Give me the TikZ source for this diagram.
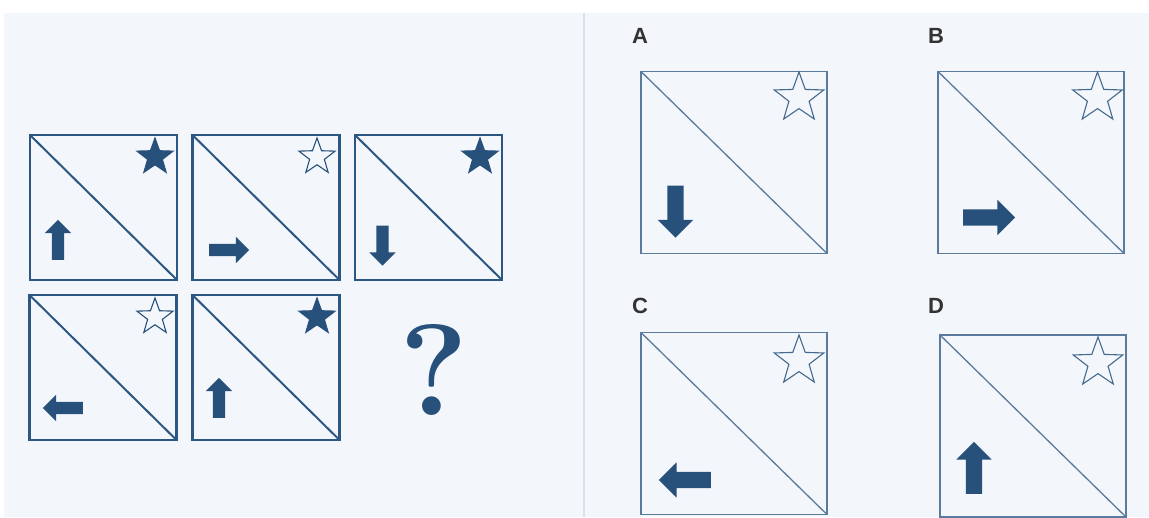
\documentclass[tikz,border=0pt]{standalone}
\usepackage{fontspec}
\newfontfamily\labelfont{Liberation Sans}
\usetikzlibrary{shapes.geometric,shapes.arrows}
\definecolor{panel}{HTML}{F3F6FB}
\definecolor{navy}{HTML}{27517B}
\definecolor{frameq}{HTML}{2C5783}
\definecolor{framea}{HTML}{5A7B9B}
\definecolor{rulegray}{HTML}{DDE2E8}
\definecolor{letter}{HTML}{333333}
\begin{document}
\begin{tikzpicture}[x=1pt, y=-1pt, line join=miter,
	qbox/.style={draw=frameq, line width=2.6pt, minimum width=147pt, minimum height=145pt, inner sep=0pt, outer sep=0pt},
	abox/.style={draw=framea, line width=1.6pt, minimum width=186pt, minimum height=182pt, inner sep=0pt, outer sep=0pt},
	qdiag/.style={draw=frameq, line width=2pt},
	adiag/.style={draw=framea, line width=1.3pt},
	qstar/.style={star, star points=5, star point ratio=2.45, minimum size=38pt, inner sep=0pt, draw=navy, line width=1.1pt},
	astar/.style={qstar, minimum size=52pt, line width=1.1pt, draw=framea!60!navy},
	solidstar/.style={fill=navy},
	qarrow/.style={single arrow, fill=navy, minimum height=40pt, inner sep=6pt, single arrow head extend=7pt, single arrow tip angle=90, outer sep=0pt},
	aarrow/.style={qarrow, minimum height=52pt, inner sep=8pt, single arrow head extend=9.5pt},
	tag/.style={font=\labelfont\bfseries\fontsize{22}{22}\selectfont, text=letter, inner sep=0pt}]
	\fill[white] (0,0) rectangle (1149,518);
	\useasboundingbox (0,0) rectangle (1149,518);
	\fill[panel] (4,13) rectangle (1149,517);
	\draw[rulegray, line width=2pt] (583.5,13) -- (583.5,517);
	% question grid
	\node[qbox] (p1) at (103.5,207.5) {};
	\node[qbox] (p2) at (266,207.5) {};
	\node[qbox] (p3) at (428.5,207.5) {};
	\node[qbox] (p4) at (103,367.5) {};
	\node[qbox] (p5) at (266,367.5) {};
	\foreach \p in {p1,p2,p3,p4,p5}
		\draw[qdiag] (\p.north west) -- (\p.south east);
	\node[qstar, solidstar] (s1) at (155,157) {};
	\node[qstar] (s2) at (317,157) {};
	\node[qstar, solidstar] (s3) at (480,157) {};
	\node[qstar] (s4) at (155,317) {};
	\node[qstar, solidstar] (s5) at (317,317) {};
	\node[qarrow, rotate=90] (r1) at (58,243) {};
	\node[qarrow] (r2) at (226,250) {};
	\node[qarrow, rotate=-90] (r3) at (382.5,242.5) {};
	\node[qarrow, rotate=180] (r4) at (66,408) {};
	\node[qarrow, rotate=90] (r5) at (219,401) {};
	\node[text=navy, inner sep=0pt, font=\bfseries\fontsize{130}{130}\selectfont] (qm) at (434,370) {?};
	% answers
	\node[tag] (la) at (640,36) {A};
	\node[tag] (lb) at (936,36) {B};
	\node[tag] (lc) at (640,306) {C};
	\node[tag] (ld) at (936,306) {D};
	\node[abox] (ba) at (734,162.5) {};
	\node[abox] (bb) at (1031,162.5) {};
	\node[abox] (bc) at (734,423.5) {};
	\node[abox] (bd) at (1033,426) {};
	\foreach \b in {ba,bb,bc,bd}
		\draw[adiag] (\b.north west) -- (\b.south east);
	\node[astar] (ta) at (799,98) {};
	\node[astar] (tb) at (1097.5,98) {};
	\node[astar] (tc) at (799,361) {};
	\node[astar] (td) at (1098,363) {};
	\node[aarrow, rotate=-90] (ka) at (675.5,207.5) {};
	\node[aarrow] (kb) at (985,217.5) {};
	\node[aarrow, rotate=180] (kc) at (689,480) {};
	\node[aarrow, rotate=90] (kd) at (974,472) {};
\end{tikzpicture}
\end{document}
